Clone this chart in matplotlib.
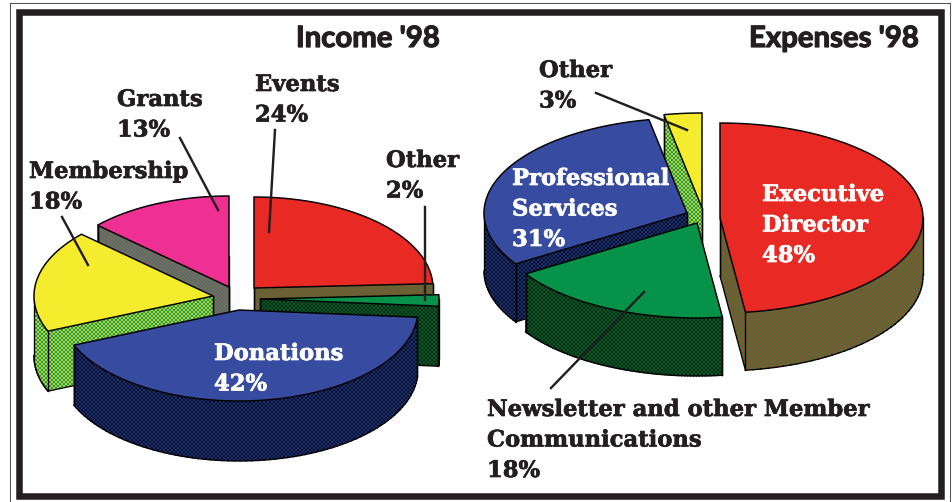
import numpy as np
import matplotlib
matplotlib.use('Agg')
import matplotlib.pyplot as plt
import matplotlib.patheffects as pe
from matplotlib.path import Path
from matplotlib.patches import PathPatch, Rectangle

# Data
income_labels = ['Events', 'Other', 'Donations', 'Membership', 'Grants']
income_values = [24, 2, 42, 18, 13]
expense_labels = ['Executive Director', 'Newsletter and other Member Communications',
                  'Professional Services', 'Other']
expense_values = [48, 18, 31, 3]

RED = ('#E92A24', '#C8352A', '#2E7D3A')
GREEN = ('#07924A', '#0B6B35', '#002A10')
BLUE = ('#374CA0', '#26397F', '#05102E')
YELLOW = ('#F6EC2E', '#E2E43A', '#1F9A48')
PINK = ('#EE3093', '#C93C84', '#2C8C50')

DPI = 96
plt.rcParams['hatch.linewidth'] = 0.7
SERIF = 'DejaVu Serif'
SANS = 'Lato'
INK = '#231F20'

fig = plt.figure(figsize=(952 / DPI, 502 / DPI), dpi=DPI)
ax = fig.add_axes([0, 0, 1, 1])
ax.set_xlim(0, 952)
ax.set_ylim(502, 0)
ax.axis('off')


def draw_slice(start, sweep, apex, rx, ry, depth, colors, z):
    # start and sweep in degrees, clockwise from start
    top, side, dots = colors
    ang = np.radians(np.linspace(start, start - sweep, 80))
    xs = np.r_[apex[0], apex[0] + rx * np.cos(ang)]
    ys = np.r_[apex[1], apex[1] - ry * np.sin(ang)]
    top_path = Path(np.c_[xs, ys])

    # side walls: one quad per outline edge, all wound the same way
    verts, codes = [], []
    n = len(xs)
    for i in range(n):
        j = (i + 1) % n
        quad = [(xs[i], ys[i]), (xs[j], ys[j]), (xs[j], ys[j] + depth), (xs[i], ys[i] + depth)]
        q = np.array(quad)
        area = np.sum(q[:, 0] * np.roll(q[:, 1], -1) - np.roll(q[:, 0], -1) * q[:, 1])
        if area < 0:
            quad = quad[::-1]
        verts += quad + [quad[0]]
        codes += [Path.MOVETO, Path.LINETO, Path.LINETO, Path.LINETO, Path.CLOSEPOLY]
    ax.add_patch(PathPatch(Path(verts, codes), facecolor=side, edgecolor=dots, hatch='xxxxxxxx',
                           lw=0, zorder=z))

    # bottom outline, only the edges nothing of the solid hangs below
    for i in range(n):
        j = (i + 1) % n
        mx, my = (xs[i] + xs[j]) / 2, (ys[i] + ys[j]) / 2 + depth + 1.5
        if not any(top_path.contains_point((mx, my - t)) for t in np.linspace(0, depth, 25)):
            ax.plot([xs[i], xs[j]], [ys[i] + depth, ys[j] + depth], color='black', lw=1.0, zorder=z)

    # upright edges at the corners in front and at the sides of the rim
    for k in [0, 1, n - 1, int(np.argmin(xs)), int(np.argmax(xs))]:
        if not top_path.contains_point((xs[k], ys[k] + 2)):
            ax.plot([xs[k], xs[k]], [ys[k], ys[k] + depth], color='black', lw=1.0, zorder=z)

    ax.fill(xs, ys, facecolor=top, edgecolor='black', lw=1.1, zorder=z + 0.5)


def draw_pie(values, apexes, rx, ry, depth, colors, order):
    total = sum(values)
    sweeps = [v / total * 360 for v in values]
    starts = 90 - np.r_[0, np.cumsum(sweeps)[:-1]]
    for i in order:
        draw_slice(starts[i], sweeps[i], apexes[i], rx, ry, depth, colors[i], 2 + order.index(i))


# Income pie: explode offsets come out as separate apex points
draw_pie(income_values, [(254, 288), (260, 299), (239, 310), (213, 296), (229, 287)],
         179, 91, 60, [RED, GREEN, BLUE, YELLOW, PINK], [4, 0, 1, 3, 2])
# Expenses pie
draw_pie(expense_values, [(720, 218), (697, 223), (687, 213), (702, 208)],
         203, 95, 58, [RED, GREEN, BLUE, YELLOW], [3, 2, 0, 1])

# Frame
ax.add_patch(Rectangle((18.5, 12), 922.5, 484, fill=False, edgecolor=INK, lw=4.9, zorder=1))
ax.plot([10, 10], [3, 502], color='#555555', lw=0.8, zorder=1)
ax.plot([950, 950], [3, 502], color='#555555', lw=0.8, zorder=1)
ax.plot([10, 950], [3, 3], color='#555555', lw=0.8, zorder=1)

# Titles
title_fx = [pe.withStroke(linewidth=0.9, foreground=INK)]
ax.text(296, 39, "Income '98", family=SANS, weight='bold', fontsize=22, color=INK, va='center',
        zorder=20, path_effects=title_fx)
ax.text(749, 39, "Expenses '98", family=SANS, weight='bold', fontsize=22, color=INK, va='center',
        zorder=20, path_effects=title_fx)


def label(x, y, s, color=INK):
    ax.text(x, y, s, family=SERIF, weight='bold', fontsize=17, color=color, va='top', ha='left',
            linespacing=1.5, zorder=20, path_effects=[pe.withStroke(linewidth=0.5, foreground=color)])


# Labels
label(255, 74, income_labels[0] + '\n24%')
label(386, 150, income_labels[1] + '\n2%')
label(214, 343, income_labels[2] + '\n42%', 'white')
label(29, 161, income_labels[3] + '\n18%')
label(117, 89, income_labels[4] + '\n13%')
label(762, 184, 'Executive\nDirector\n48%', 'white')
label(487, 399, 'Newsletter and other Member\nCommunications\n18%')
label(512, 168, 'Professional\nServices\n31%', 'white')
label(539, 60, expense_labels[3] + '\n3%')

# Leader lines
leaders = [((275, 130), (269, 232)), ((425, 207), (425, 300)), ((180, 138), (218, 210)),
           ((62, 217), (88, 265)), ((596, 93), (687, 130)), ((644, 292), (551, 388))]
for a, b in leaders:
    ax.plot([a[0], b[0]], [a[1], b[1]], color=INK, lw=1.8, zorder=19)

fig.savefig('out.png', dpi=DPI)
